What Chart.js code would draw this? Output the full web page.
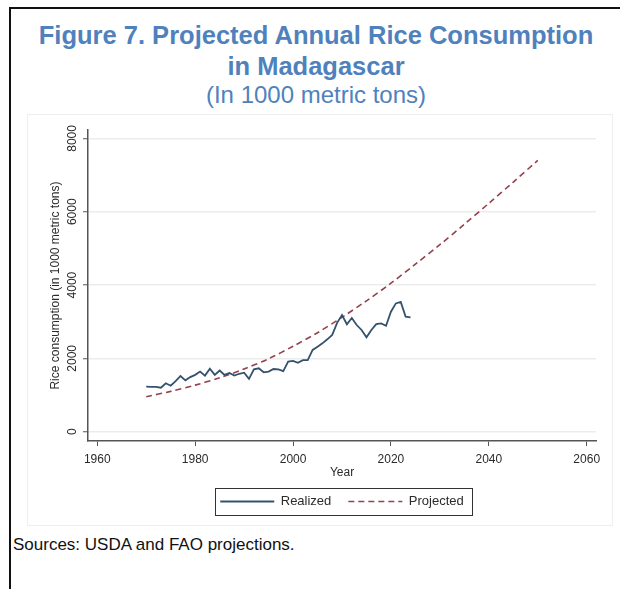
<!DOCTYPE html>
<html>
<head>
<meta charset="utf-8">
<script src="https://cdn.jsdelivr.net/npm/chart.js@4.4.1/dist/chart.umd.min.js"></script>
<style>
html,body{margin:0;padding:0;background:#fff;}
body{width:620px;height:589px;position:relative;overflow:hidden;font-family:"Liberation Sans",Arial,sans-serif;}
#frame{position:absolute;left:9px;top:7px;width:660px;height:640px;border:2px solid #111;box-sizing:border-box;}
.ttl{position:absolute;left:9px;width:614px;text-align:center;color:#4f81bd;font-size:24px;line-height:30px;white-space:nowrap;}
.b{font-weight:bold;font-size:25.5px;}
#plot{position:absolute;left:28px;top:115px;width:584px;height:410px;box-shadow:0 0 0 1px #eeeeee;}
#src{position:absolute;left:13px;top:535px;font-size:17px;line-height:20px;color:#111;}
</style>
</head>
<body>
<div id="frame"></div>
<div class="ttl b" style="top:20px">Figure 7. Projected Annual Rice Consumption</div>
<div class="ttl b" style="top:51px">in Madagascar</div>
<div class="ttl" style="top:80px">(In 1000 metric tons)</div>
<div id="plot"><canvas id="c"></canvas></div>
<div id="src">Sources: USDA and FAO projections.</div>
<script>
// realized consumption (1000 t)
const realizedYears = [1970,1971,1972,1973,1974,1975,1976,1977,1978,1979,
  1980,1981,1982,1983,1984,1985,1986,1987,1988,1989,
  1990,1991,1992,1993,1994,1995,1996,1997,1998,1999,
  2000,2001,2002,2003,2004,2005,2006,2007,2008,2009,
  2010,2011,2012,2013,2014,2015,2016,2017,2018,2019,
  2020,2021,2022,2023,2024];
const realizedValues = [1227,1225,1222,1200,1320,1255,1380,1520,1400,1490,
  1550,1640,1530,1720,1550,1670,1550,1600,1530,1580,
  1610,1440,1700,1730,1620,1640,1710,1700,1650,1910,
  1930,1880,1950,1950,2230,2320,2410,2520,2640,2970,
  3180,2930,3100,2910,2775,2575,2775,2935,2955,2890,
  3274,3500,3540,3140,3120];

// projection curve, sampled every 5 years
const projectedYears = [1970,1975,1980,1985,1990,1995,2000,2005,2010,2015,2020,2025,2030,2035,2040,2045,2050];
const projectedValues = [955,1100,1270,1470,1710,1990,2330,2700,3120,3570,4050,4570,5100,5660,6230,6810,7400];

const xTicks = [1960,1980,2000,2020,2040,2060];
const yTicks = [0,2000,4000,6000,8000];

const AXIS = '#555', TXT = '#2b2b2b';
const FONT = {family:'"Liberation Sans", Arial, sans-serif', size:12};

// legend samples: keep each dataset's own dash / width
function legendLabels(chart){
  const items = Chart.defaults.plugins.legend.labels.generateLabels(chart);
  items.forEach(it=>{
    const ds = chart.data.datasets[it.datasetIndex];
    it.lineDash = ds.borderDash || [];
    it.lineWidth = ds.borderWidth;
    it.strokeStyle = ds.borderColor;
  });
  return items;
}

// draw the box round the legend (Stata style)
const legendBox = {
  id:'legendBox',
  afterDraw(chart){
    const hb = chart.legend && chart.legend.legendHitBoxes;
    if(!hb || !hb.length) return;
    const l = Math.min(...hb.map(b=>b.left)) - 5;
    const r = Math.max(...hb.map(b=>b.left+b.width)) + 8;
    const t = hb[0].top - 7, btm = hb[0].top + hb[0].height + 7;
    const ctx = chart.ctx;
    ctx.save();
    ctx.strokeStyle = '#333'; ctx.lineWidth = 1;
    ctx.strokeRect(Math.round(l)+.5, Math.round(t)+.5, Math.round(r-l), Math.round(btm-t));
    ctx.restore();
  }
};

new Chart(document.getElementById('c'), {
  type:'line',
  data:{
    datasets:[
      {label:'Realized', data:realizedYears.map((y,i)=>({x:y, y:realizedValues[i]})),
       borderColor:'#34526d', backgroundColor:'#34526d', borderWidth:1.8,
       pointRadius:0, tension:0},
      {label:'Projected', data:projectedYears.map((y,i)=>({x:y, y:projectedValues[i]})),
       borderColor:'#94424c', backgroundColor:'#94424c', borderWidth:1.6, borderDash:[6,4],
       pointRadius:0, tension:0.3}
    ]
  },
  options:{
    responsive:true, maintainAspectRatio:false, animation:false,
    layout:{padding:{top:15, right:16, left:0, bottom:7}},
    plugins:{
      tooltip:{enabled:false},
      legend:{position:'bottom', fullSize:false,
        labels:{usePointStyle:true, pointStyle:'line', pointStyleWidth:54, padding:17,
                color:TXT, font:{family:FONT.family, size:13}, generateLabels:legendLabels}}
    },
    scales:{
      x:{type:'linear', min:1958.1, max:2061.9,
        afterBuildTicks:s=>{ s.ticks = xTicks.map(v=>({value:v})); },
        afterFit:s=>{ s.height = 37; },
        grid:{drawOnChartArea:false, drawTicks:true, tickLength:5, tickColor:AXIS, tickWidth:1},
        border:{color:AXIS, width:1.5},
        ticks:{color:TXT, font:FONT, padding:6, maxRotation:0, callback:v=>String(v)},
        title:{display:true, text:'Year', color:TXT, font:FONT, padding:{top:0,bottom:-2}}
      },
      y:{type:'linear', min:-254, max:8230,
        afterBuildTicks:s=>{ s.ticks = yTicks.map(v=>({value:v})); },
        afterFit:s=>{ s.width = 60; },
        grid:{color:'#ececec', lineWidth:1.5, drawTicks:true, tickLength:5, tickColor:AXIS, tickWidth:1},
        border:{color:AXIS, width:1.5},
        ticks:{color:TXT, font:FONT, minRotation:90, maxRotation:90, crossAlign:'center', padding:-3,
               callback:v=>String(v)},
        title:{display:true, text:'Rice consumption (in 1000 metric tons)', color:TXT, font:FONT,
               padding:{top:20,bottom:0}}
      }
    }
  },
  plugins:[legendBox]
});
</script>
</body>
</html>
